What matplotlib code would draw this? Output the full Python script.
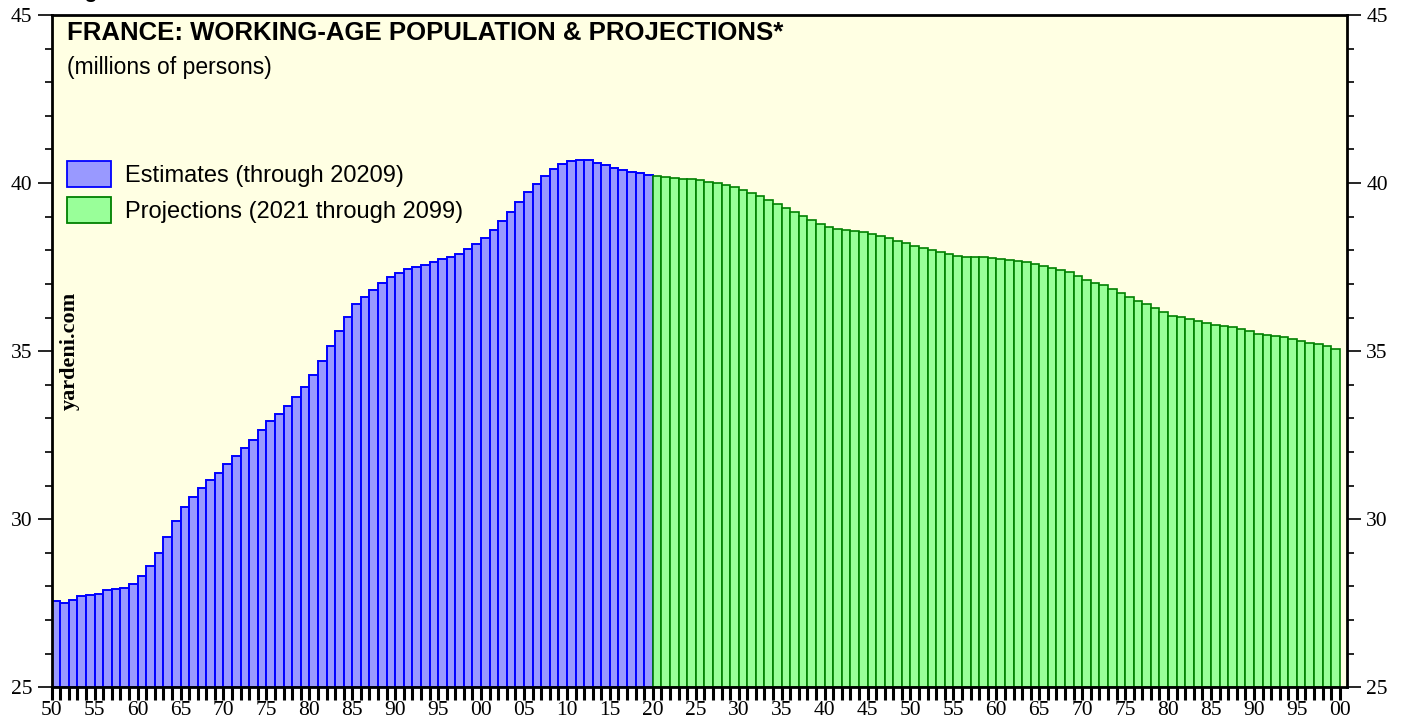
import matplotlib
matplotlib.use("Agg")
import matplotlib.pyplot as plt
from matplotlib.patches import Patch
from matplotlib.ticker import MultipleLocator, FixedLocator, FixedFormatter

# ---- data (millions of persons) ----
est_years = list(range(1950, 2020))
est_values = [
    27.57, 27.50, 27.61, 27.72, 27.75, 27.78, 27.89, 27.93, 27.96, 28.07,
    28.31, 28.60, 29.00, 29.47, 29.96, 30.37, 30.66, 30.93, 31.16, 31.39,
    31.65, 31.88, 32.12, 32.37, 32.64, 32.93, 33.13, 33.36, 33.63, 33.94,
    34.29, 34.71, 35.16, 35.60, 36.01, 36.39, 36.62, 36.82, 37.02, 37.20,
    37.33, 37.45, 37.51, 37.57, 37.64, 37.73, 37.81, 37.90, 38.03, 38.18,
    38.37, 38.59, 38.86, 39.15, 39.44, 39.74, 39.98, 40.21, 40.41, 40.57,
    40.65, 40.68, 40.68, 40.60, 40.53, 40.45, 40.39, 40.34, 40.30, 40.25,
]
proj_years = list(range(2020, 2100))
proj_values = [
    40.20, 40.17, 40.15, 40.13, 40.11, 40.08, 40.03, 39.99, 39.95, 39.88,
    39.79, 39.71, 39.61, 39.50, 39.38, 39.26, 39.15, 39.02, 38.90, 38.79,
    38.69, 38.63, 38.59, 38.57, 38.54, 38.48, 38.42, 38.36, 38.29, 38.21,
    38.13, 38.07, 38.02, 37.96, 37.89, 37.83, 37.81, 37.80, 37.80, 37.78,
    37.74, 37.71, 37.69, 37.65, 37.60, 37.54, 37.48, 37.42, 37.34, 37.25,
    37.13, 37.04, 36.96, 36.85, 36.74, 36.60, 36.49, 36.39, 36.28, 36.17,
    36.06, 36.01, 35.96, 35.91, 35.85, 35.77, 35.74, 35.71, 35.65, 35.59,
    35.51, 35.49, 35.46, 35.42, 35.37, 35.29, 35.25, 35.20, 35.14, 35.06,
]
x_tick_years = list(range(1950, 2101, 5))
x_tick_labels = [f"{y % 100:02d}" for y in x_tick_years]
y_ticks = [25, 30, 35, 40, 45]

title = "FRANCE: WORKING-AGE POPULATION & PROJECTIONS*"
subtitle = "(millions of persons)"
est_label = "Estimates (through 20209)"
proj_label = "Projections (2021 through 2099)"

# ---- styling ----
SANS = ["Liberation Sans", "DejaVu Sans"]
SERIF = ["Liberation Serif", "DejaVu Serif"]
BG = "#FFFFE3"
EST_FILL, EST_EDGE = "#9999FF", "#0000FF"
PROJ_FILL, PROJ_EDGE = "#99FF99", "#008000"

fig = plt.figure(figsize=(14.07, 7.19), dpi=100)
W, H = 1407, 719
left_px, right_px, top_px, bottom_px = 51.7, 1346.7, 15, 687.3
ax = fig.add_axes([left_px / W, 1 - bottom_px / H,
                   (right_px - left_px) / W, (bottom_px - top_px) / H])
ax.set_facecolor(BG)


def ax_x(px):
    return (px - left_px) / (right_px - left_px)


def ax_y(py):
    return (bottom_px - py) / (bottom_px - top_px)


ax.bar(est_years, [v - 25 for v in est_values], bottom=25, width=1.0, align="edge",
       color=EST_FILL, edgecolor=EST_EDGE, linewidth=1.4, zorder=2)
ax.bar(proj_years, [v - 25 for v in proj_values], bottom=25, width=1.0, align="edge",
       color=PROJ_FILL, edgecolor=PROJ_EDGE, linewidth=1.2, zorder=2)

ax.set_xlim(1950, 2100.8)
ax.set_ylim(25, 45)

# x ticks
ax.xaxis.set_major_locator(FixedLocator(x_tick_years))
ax.xaxis.set_major_formatter(FixedFormatter(x_tick_labels))
ax.xaxis.set_minor_locator(MultipleLocator(1))
ax.tick_params(axis="x", which="both", direction="out", length=9.5, width=2.2,
               color="black", pad=0.5, labelsize=15.5)
for lab in ax.get_xticklabels():
    lab.set_fontfamily(SERIF)

# y ticks
ax.set_yticks(y_ticks)
ax.yaxis.set_minor_locator(MultipleLocator(1))
ax.tick_params(axis="y", which="major", direction="out", length=10, width=1.2,
               left=True, right=True, labelleft=True, labelright=True,
               pad=4, labelsize=15.5)
ax.tick_params(axis="y", which="minor", direction="out", length=5, width=1.2,
               left=True, right=True)
for lab in ax.get_yticklabels():
    lab.set_fontfamily(SERIF)

for s in ax.spines.values():
    s.set_linewidth(2.0)
    s.set_color("black")
    s.set_zorder(5)

# titles
ax.text(ax_x(67), ax_y(33), title, transform=ax.transAxes, ha="left", va="center",
        fontsize=18.5, fontweight="bold", family=SANS)
ax.text(ax_x(67), ax_y(67), subtitle, transform=ax.transAxes, ha="left", va="center",
        fontsize=16.5, family=SANS)

# partial figure label cut off at the top edge
fig.text(67 / W, 1 + 2 / H, "Figure", ha="left", va="baseline",
         fontsize=15, fontweight="bold", family=SANS)

# watermark
ax.text(ax_x(70), ax_y(351), "yardeni.com", transform=ax.transAxes, rotation=90,
        ha="center", va="center", fontsize=16, fontweight="bold", family=SERIF)

# legend
handles = [Patch(facecolor=EST_FILL, edgecolor=EST_EDGE, linewidth=1.3, label=est_label),
           Patch(facecolor=PROJ_FILL, edgecolor=PROJ_EDGE, linewidth=1.3, label=proj_label)]
ax.legend(handles=handles, loc="upper left",
          bbox_to_anchor=(ax_x(67), ax_y(161)),
          frameon=False, borderpad=0, borderaxespad=0,
          handlelength=1.85, handleheight=1.3, handletextpad=0.6,
          labelspacing=0.45, prop={"family": SANS, "size": 17})

fig.savefig("out.png", dpi=100)
